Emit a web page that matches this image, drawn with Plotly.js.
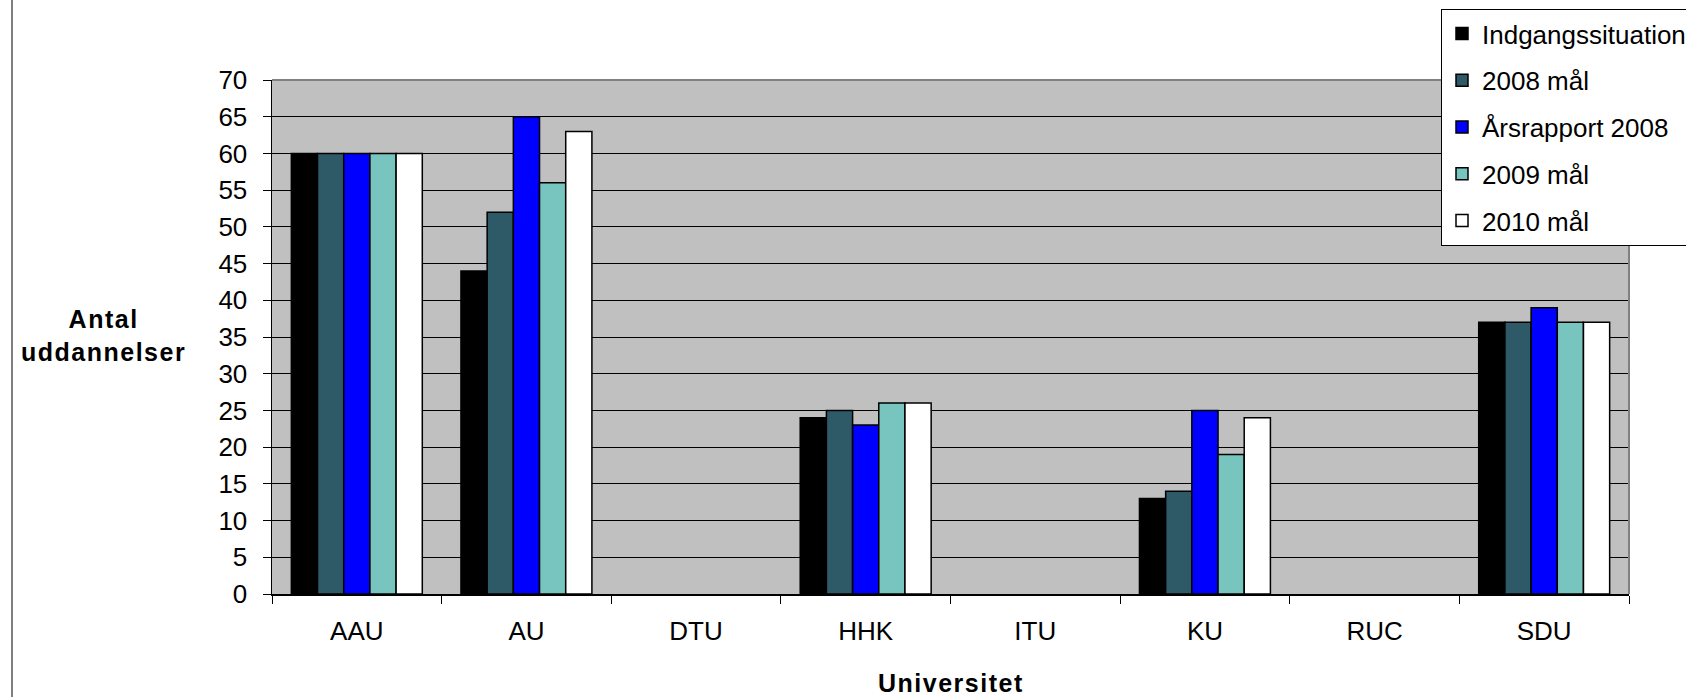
<!DOCTYPE html>
<html>
<head>
<meta charset="utf-8">
<script src="https://cdn.plot.ly/plotly-3.0.1.min.js"></script>
<style>
html,body{margin:0;padding:0;background:#fff;}
#chart{width:1686px;height:697px;}
text.annotation-text{letter-spacing:1.5px;}
</style>
</head>
<body>
<div id="chart"></div>
<script>
const categories = ["AAU", "AU", "DTU", "HHK", "ITU", "KU", "RUC", "SDU"];
const seriesNames = ["Indgangssituation", "2008 mål", "Årsrapport 2008", "2009 mål", "2010 mål"];
const indgangssituation = [60, 44, null, 24, null, 13, null, 37];
const maal2008 = [60, 52, null, 25, null, 14, null, 37];
const aarsrapport2008 = [60, 65, null, 23, null, 25, null, 39];
const maal2009 = [60, 56, null, 26, null, 19, null, 37];
const maal2010 = [60, 63, null, 26, null, 24, null, 37];
const yTickValues = [0, 5, 10, 15, 20, 25, 30, 35, 40, 45, 50, 55, 60, 65, 70];

const seriesValues = [indgangssituation, maal2008, aarsrapport2008, maal2009, maal2010];
const colors = ["#000000", "#2E5A68", "#0000FF", "#78C4BE", "#FFFFFF"];
const FONT = "Liberation Sans, Arial, sans-serif";

const traces = seriesValues.map((vals, i) => ({
  type: "bar",
  name: seriesNames[i],
  x: categories,
  y: vals,
  legendgroup: "g" + i,
  marker: {color: colors[i], line: {color: "#000000", width: 1.5}},
  hoverinfo: "x+y+name"
}));

const L = 272, R = 1629, T = 80, B = 594, W = 1686, H = 697;
const pw = R - L, ph = B - T;

const layout = {
  width: W, height: H,
  margin: {l: L, r: W - R, t: T, b: H - B, pad: 0, autoexpand: false},
  paper_bgcolor: "#FFFFFF",
  plot_bgcolor: "#C0C0C0",
  font: {family: FONT, size: 26, color: "#000000"},
  barmode: "group",
  bargap: 0.228,
  bargroupgap: 0,
  showlegend: true,
  legend: {
    x: (1441 - L) / pw, xanchor: "left",
    y: 1 + (T - 9) / ph, yanchor: "top",
    bgcolor: "#FFFFFF", bordercolor: "#000000", borderwidth: 1,
    font: {family: FONT, size: 26, color: "#000000"},
    traceorder: "grouped", tracegroupgap: 10,
    itemwidth: 30
  },
  xaxis: {
    type: "category",
    categoryorder: "array", categoryarray: categories,
    showgrid: false, zeroline: false,
    showline: true, linecolor: "#000000", linewidth: 1.5,
    ticks: "outside", tickson: "boundaries", ticklen: 8, tickcolor: "#000000", tickwidth: 1,
    ticklabelstandoff: 13,
    tickfont: {family: FONT, size: 26, color: "#000000"},
    fixedrange: true
  },
  yaxis: {
    range: [0, 70],
    tickmode: "array", tickvals: yTickValues, ticktext: yTickValues.map(String),
    showgrid: true, gridcolor: "#000000", gridwidth: 1,
    zeroline: false,
    showline: true, linecolor: "#000000", linewidth: 1.5,
    ticks: "outside", ticklen: 8, tickcolor: "#000000", tickwidth: 1,
    ticklabelstandoff: 10,
    tickfont: {family: FONT, size: 26, color: "#000000"},
    fixedrange: true
  },
  shapes: [
    {type: "line", xref: "paper", yref: "paper", x0: 0, x1: 1, y0: 1, y1: 1, line: {color: "#808080", width: 2}},
    {type: "line", xref: "paper", yref: "paper", x0: 1, x1: 1, y0: 0, y1: 1, line: {color: "#808080", width: 2}},
    {type: "line", xref: "paper", yref: "paper", x0: (12 - L) / pw, x1: (12 - L) / pw, y0: -(H - B) / ph, y1: 1 + T / ph, line: {color: "#000000", width: 1}}
  ],
  annotations: [
    {text: "<b>Antal<br>uddannelser</b>", xref: "paper", yref: "paper",
     x: (103 - L) / pw, y: (B - 335) / ph, xanchor: "center", yanchor: "middle",
     showarrow: false, align: "center", font: {family: FONT, size: 25, color: "#000000"}},
    {text: "<b>Universitet</b>", xref: "paper", yref: "paper",
     x: 0.5, y: -(683 - B) / ph, xanchor: "center", yanchor: "middle",
     showarrow: false, font: {family: FONT, size: 25, color: "#000000"}}
  ]
};

Plotly.newPlot("chart", traces, layout, {displayModeBar: false, staticPlot: true});
</script>
</body>
</html>
